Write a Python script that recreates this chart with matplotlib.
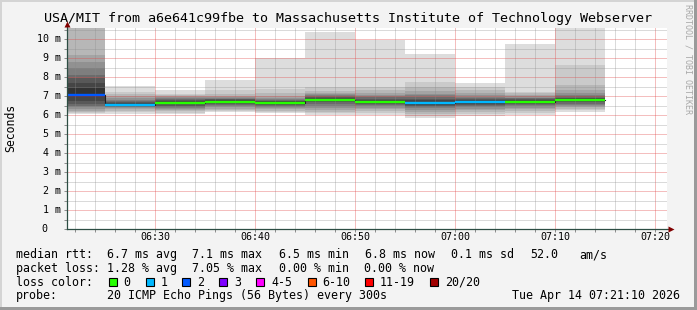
import matplotlib
matplotlib.use('Agg')
import matplotlib.pyplot as plt
from matplotlib import transforms
from matplotlib.patches import Rectangle

W, H = 697, 310
MONO = 'DejaVu Sans Mono'

title = 'USA/MIT from a6e641c99fbe to Massachusetts Institute of Technology Webserver'

# 5 minute rounds, start time of each round
col_start = ['06:20', '06:25', '06:30', '06:35', '06:40', '06:45',
             '06:50', '06:55', '07:00', '07:05', '07:10']

# sorted ping times (ms) per round, 20 pings each
p0620 = [6.04, 6.10, 6.14, 6.22, 6.30, 6.40, 6.50, 6.60, 6.75, 6.95,
         7.40, 7.67, 7.93, 8.10, 8.46, 8.81, 9.16, 10.56, 10.56, 10.56]
p0625 = [6.04, 6.14, 6.23, 6.30, 6.35, 6.40, 6.44, 6.47, 6.50, 6.52,
         6.60, 6.65, 6.70, 6.75, 6.80, 6.87, 7.00, 7.10, 7.23, 7.53]
p0630 = [6.04, 6.12, 6.20, 6.27, 6.33, 6.38, 6.44, 6.50, 6.56, 6.62,
         6.70, 6.74, 6.78, 6.82, 6.87, 6.93, 6.98, 7.05, 7.12, 7.30]
p0635 = [6.14, 6.20, 6.27, 6.33, 6.40, 6.46, 6.52, 6.58, 6.63, 6.67,
         6.74, 6.78, 6.82, 6.86, 6.90, 6.95, 7.02, 7.12, 7.30, 7.84]
p0640 = [6.09, 6.15, 6.22, 6.30, 6.36, 6.42, 6.48, 6.53, 6.58, 6.61,
         6.68, 6.72, 6.76, 6.80, 6.85, 6.92, 7.00, 7.14, 7.35, 8.98]
p0645 = [6.00, 6.08, 6.18, 6.28, 6.38, 6.48, 6.58, 6.66, 6.73, 6.78,
         6.86, 6.90, 6.95, 7.00, 7.05, 7.10, 7.17, 7.25, 7.45, 10.39]
p0650 = [6.00, 6.10, 6.20, 6.30, 6.38, 6.45, 6.52, 6.57, 6.61, 6.65,
         6.73, 6.80, 6.86, 6.93, 7.00, 7.07, 7.14, 7.30, 7.49, 9.96]
p0655 = [5.86, 5.95, 6.05, 6.15, 6.25, 6.35, 6.44, 6.50, 6.55, 6.60,
         6.70, 6.78, 6.86, 6.95, 7.04, 7.13, 7.25, 7.47, 7.75, 9.21]
p0700 = [5.95, 6.05, 6.15, 6.25, 6.33, 6.40, 6.47, 6.54, 6.60, 6.65,
         6.72, 6.78, 6.84, 6.90, 6.97, 7.05, 7.15, 7.30, 7.45, 7.67]
p0705 = [6.00, 6.12, 6.22, 6.30, 6.38, 6.45, 6.52, 6.58, 6.63, 6.67,
         6.74, 6.78, 6.82, 6.87, 6.92, 6.98, 7.05, 7.15, 7.23, 9.74]
p0710 = [6.17, 6.25, 6.33, 6.40, 6.47, 6.53, 6.60, 6.66, 6.72, 6.76,
         6.83, 6.87, 6.92, 6.98, 7.05, 7.15, 7.30, 7.60, 8.63, 10.60]
pings = [p0620, p0625, p0630, p0635, p0640, p0645,
         p0650, p0655, p0700, p0705, p0710]

median_ms = [7.05, 6.54, 6.65, 6.70, 6.63, 6.81, 6.68, 6.63, 6.68, 6.70, 6.79]
lost = [2, 1, 0, 0, 0, 0, 0, 1, 1, 0, 0]

loss_labels = ['0', '1', '2', '3', '4-5', '6-10', '11-19', '20/20']
loss_colors = ['#26ff00', '#00b8ff', '#0059ff', '#7e00ff',
               '#ff00ff', '#ff5500', '#ff0000', '#a10000']

y_ticks = list(range(0, 11))
y_tick_labels = ['0'] + ['%d m' % v for v in range(1, 11)]
x_tick_labels = ['06:30', '06:40', '06:50', '07:00', '07:10', '07:20']

rtt_stats = ['6.7 ms avg', '7.1 ms max', '6.5 ms min', '6.8 ms now', '0.1 ms sd', '52.0', 'am/s']
loss_stats = ['1.28 % avg', '7.05 % max', '0.00 % min', '0.00 % now']
probe_text = '20 ICMP Echo Pings (56 Bytes) every 300s'
stamp = 'Tue Apr 14 07:21:10 2026'
t_start, t_end = '06:21:10', '07:21:10'


def mins(s):
    parts = [int(p) for p in s.split(':')]
    m = parts[0] * 60 + parts[1] - 360
    if len(parts) > 2:
        m += parts[2] / 60.0
    return m


def loss_index(n):
    if n <= 3:
        return n
    if n <= 5:
        return 4
    if n <= 10:
        return 5
    if n <= 19:
        return 6
    return 7


def fx(x):
    return x / W


def fy(y):
    return 1 - y / H


fig = plt.figure(figsize=(W / 100, H / 100), dpi=100, facecolor='#f3f3f3')

# 3d-ish frame like rrdtool
fig.add_artist(Rectangle((0, fy(2)), 1, 2 / H, transform=fig.transFigure, color='#d4d4d4', lw=0))
fig.add_artist(Rectangle((0, 0), 2 / W, 1, transform=fig.transFigure, color='#d4d4d4', lw=0))
fig.add_artist(Rectangle((0, 0), 1, 3 / H, transform=fig.transFigure, color='#9a9a9a', lw=0))
fig.add_artist(Rectangle((fx(W - 3), 0), 3 / W, 1, transform=fig.transFigure, color='#9a9a9a', lw=0))

ax = fig.add_axes([fx(67), fy(229), 600 / W, 201.4 / H])
ax.set_facecolor('white')
x0, x1 = mins(t_start), mins(t_end)
ax.set_xlim(x0, x1)
ax.set_ylim(0, 10.6)

# smoke
for c, vals in enumerate(pings):
    xs = mins(col_start[c])
    for ibin in range(1, 11):
        lo = vals[ibin - 1]
        hi = vals[20 - ibin]
        g = int(190 / 10 * (10 - ibin)) + 50
        ax.bar(xs, hi - lo, width=5, bottom=lo, align='edge',
               color='#%02x%02x%02x' % (g, g, g), linewidth=0, zorder=1)

# median
steps_x = [mins(s) for s in col_start] + [mins(col_start[-1]) + 5]
steps_y = median_ms + [median_ms[-1]]
ax.step(steps_x, steps_y, where='post', color='#202020', lw=0.8, zorder=3)
for c, m in enumerate(median_ms):
    xs = mins(col_start[c])
    ax.hlines(m, xs, xs + 5, colors=loss_colors[loss_index(lost[c])], lw=1.7, zorder=4)

# grid
ax.set_xticks([mins(s) for s in x_tick_labels])
ax.set_xticks([m for m in range(22, 82, 2) if m % 10 != 0], minor=True)
ax.set_yticks(y_ticks)
ax.set_yticks([v + 0.5 for v in range(0, 11)], minor=True)
ax.set_axisbelow(False)
ax.grid(which='major', color='#e04848', alpha=0.7, linestyle=(0, (1, 1)), lw=0.72)
ax.grid(which='minor', color='#8a8a8a', alpha=0.62, linestyle=(0, (1, 1)), lw=0.72)
ax.tick_params(which='both', labelbottom=False, labelleft=False, length=2,
               width=0.72, direction='out', color='#8f8f8f')

for s in ['top', 'right', 'bottom', 'left']:
    ax.spines[s].set_visible(False)
ax.plot([x0, x1 + 0.3], [0, 0], color='#2c4d43', lw=0.9, clip_on=False, zorder=5)
ax.plot([x0, x0], [0, 10.6 + 2 / 19], color='#2c4d43', lw=0.9, clip_on=False, zorder=5)
ax.plot([x1 + 0.35], [0], marker='>', color='#800000', ms=4, mec='none', clip_on=False, zorder=6)
ax.plot([x0], [10.6 + 4 / 19], marker='^', color='#800000', ms=4, mec='none', clip_on=False, zorder=6)

# tick labels
ytr = transforms.blended_transform_factory(fig.transFigure, ax.transData)
for v, lab in zip(y_ticks, y_tick_labels):
    xr = 47.5 if v == 0 else 61
    fig.text(fx(xr), v, lab, transform=ytr, ha='right', va='center',
             family=MONO, fontsize=7.2)
xtr = transforms.blended_transform_factory(ax.transData, fig.transFigure)
for lab in x_tick_labels:
    fig.text(mins(lab), fy(237.5), lab, transform=xtr, ha='center', va='center',
             family=MONO, fontsize=7.2)

fig.text(0.5, fy(18.5), title, ha='center', va='center', family=MONO, fontsize=9.6)
fig.text(fx(10.5), fy(128), 'Seconds', rotation=90, ha='center', va='center',
         family=MONO, fontsize=8.3)
fig.text(fx(688), fy(59), 'RRDTOOL / TOBI OETIKER', rotation=270, ha='center', va='center',
         family=MONO, fontsize=6, color='#a8a8a8')

# legend
FS = 8.4
rows = [254.5, 268.4, 282.2, 296]
fig.text(fx(16), fy(rows[0]), 'median rtt:', va='center', family=MONO, fontsize=FS)
for s, x in zip(rtt_stats, [107, 192.5, 279, 365, 451, 530, 579]):
    fig.text(fx(x), fy(rows[0]), s, va='center', family=MONO, fontsize=FS)

fig.text(fx(16), fy(rows[1]), 'packet loss:', va='center', family=MONO, fontsize=FS)
for s, x in zip(loss_stats, [107, 192.5, 279, 364]):
    fig.text(fx(x), fy(rows[1]), s, va='center', family=MONO, fontsize=FS)

fig.text(fx(16), fy(rows[2]), 'loss color:', va='center', family=MONO, fontsize=FS)
for lab, col, bx in zip(loss_labels, loss_colors, [108.5, 145.5, 182, 219, 256, 307.5, 364.5, 430]):
    fig.add_artist(Rectangle((fx(bx), fy(rows[2] + 4)), 8 / W, 8 / H, transform=fig.transFigure,
                             facecolor=col, edgecolor='black', lw=0.8))
    fig.text(fx(bx + 15), fy(rows[2]), lab, va='center', family=MONO, fontsize=FS)

fig.text(fx(16), fy(rows[3]), 'probe:', va='center', family=MONO, fontsize=FS)
fig.text(fx(107), fy(rows[3]), probe_text, va='center', family=MONO, fontsize=FS)
fig.text(fx(680), fy(rows[3]), stamp, ha='right', va='center', family=MONO, fontsize=FS)

fig.savefig('out.png', dpi=100, facecolor=fig.get_facecolor())
